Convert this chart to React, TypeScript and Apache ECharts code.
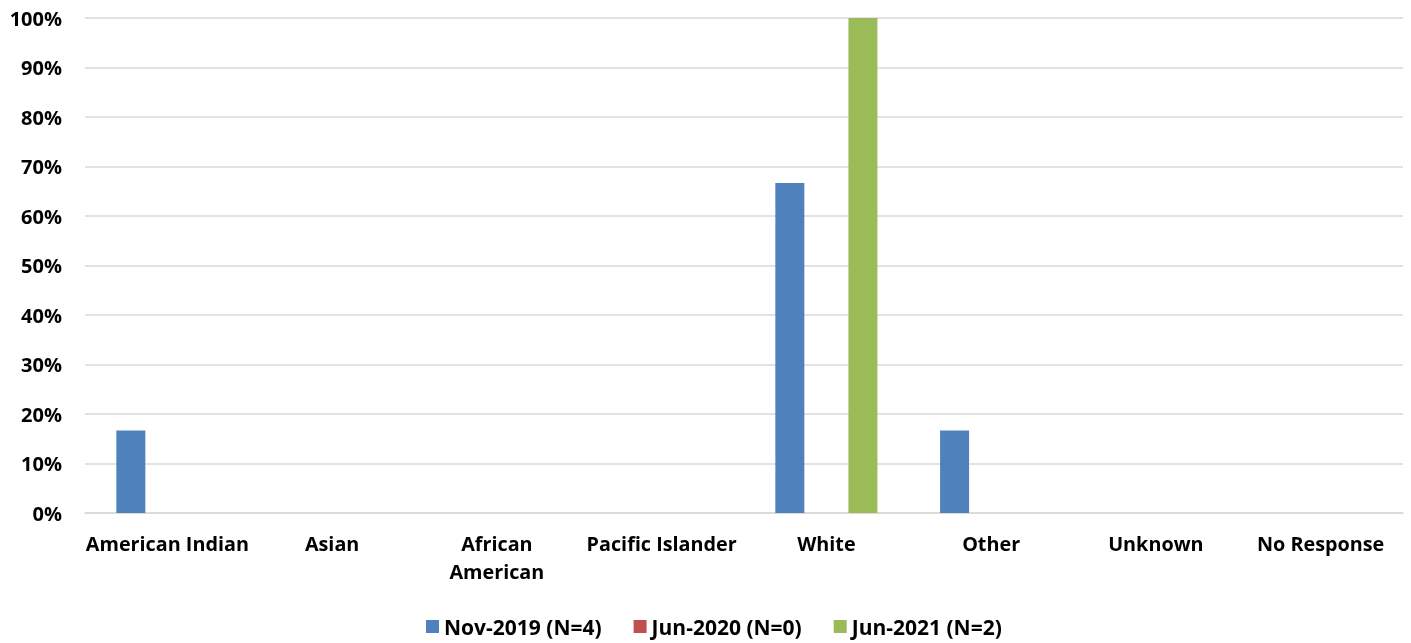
import React, { useEffect, useRef } from "react";
import * as echarts from "echarts";

const categories = ["American Indian", "Asian", "African\nAmerican", "Pacific Islander", "White", "Other", "Unknown", "No Response"];
const seriesNames = ["Nov-2019 (N=4)", "Jun-2020 (N=0)", "Jun-2021 (N=2)"];
const nov2019 = [16.67, 0, 0, 0, 66.67, 16.67, 0, 0];
const jun2020 = [0, 0, 0, 0, 0, 0, 0, 0];
const jun2021 = [0, 0, 0, 0, 100, 0, 0, 0];
const colors = ["#4f81bd", "#c0504d", "#9bbb59"];

const FONT = "Open Sans";

export default function App() {
  const ref = useRef<HTMLDivElement>(null);
  useEffect(() => {
    if (!ref.current) return;
    const chart = echarts.init(ref.current, undefined, { renderer: "svg" });
    const data = [nov2019, jun2020, jun2021];
    chart.setOption({
      animation: false,
      color: colors,
      textStyle: { fontFamily: FONT },
      grid: { left: 85, right: 8, top: 18, bottom: 130, containLabel: false },
      legend: {
        bottom: 1,
        left: 421,
        itemWidth: 13,
        itemHeight: 13,
        itemGap: 32,
        itemTextGap: 3,
        icon: "rect",
        textStyle: { fontFamily: FONT, fontWeight: "bold", fontSize: 21, color: "#000" },
        data: seriesNames,
      },
      xAxis: {
        type: "category",
        data: categories,
        axisLine: { lineStyle: { color: "#d9d9d9", width: 1.5 } },
        axisTick: { show: false },
        axisLabel: {
          color: "#000",
          fontFamily: FONT,
          fontWeight: "bold",
          fontSize: 19.8,
          margin: 16,
          lineHeight: 28,
          interval: 0,
        },
      },
      yAxis: {
        type: "value",
        min: 0,
        max: 100,
        interval: 10,
        axisLine: { show: false },
        axisTick: { show: false },
        splitLine: { lineStyle: { color: "#d9d9d9", width: 1.5 } },
        axisLabel: {
          color: "#000",
          fontFamily: FONT,
          fontWeight: "bold",
          fontSize: 20,
          margin: 23,
          formatter: "{value}%",
        },
      },
      series: seriesNames.map((name, i) => ({
        name,
        type: "bar",
        data: data[i],
        barWidth: 29,
        barGap: "26%",
      })),
    });
    return () => chart.dispose();
  }, []);
  return <div ref={ref} style={{ position: "fixed", left: 0, top: 0, width: 1411, height: 643 }} />;
}
